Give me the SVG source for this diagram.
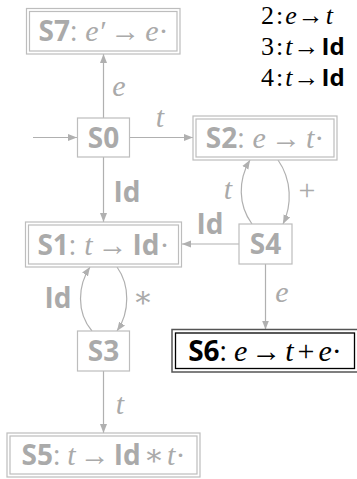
<svg xmlns="http://www.w3.org/2000/svg" width="357" height="479" viewBox="0 0 357 479">
<style>
.box{fill:#fff;stroke:#bdbdbd;stroke-width:1.2}
.box6o{fill:#fff;stroke:#555;stroke-width:1.5}
.box6i{fill:none;stroke:#000;stroke-width:1.3}
.g{fill:#aaa}
.k{fill:#000}
.sb{font-family:"Open Sans","Liberation Sans",sans-serif;font-weight:bold;font-size:28px}
.s{font-family:"Open Sans","Liberation Sans",sans-serif;font-size:28px}
.m{font-family:"Liberation Serif","DejaVu Serif",serif;font-style:italic;font-size:30px}
.r{font-family:"Liberation Serif","DejaVu Serif",serif;font-style:normal;font-size:30px}
.edge{stroke:#b0b0b0;stroke-width:1.2;fill:none;marker-end:url(#ah)}
#rules .sb{font-size:24px}
#rules .m,#rules .r{font-size:26px}
</style>
<defs>
<marker id="ah" markerWidth="10" markerHeight="8" refX="9" refY="4" orient="auto" markerUnits="userSpaceOnUse"><path d="M0,0.5 L9,4 L0,7.5 z" fill="#b0b0b0"/></marker>
</defs>
<g id="rules" class="k">
<text class="r" x="261" y="24">2<tspan dx="2">:</tspan><tspan class="m" dx="2">e</tspan><tspan dx="1">→</tspan><tspan class="m" dx="2">t</tspan></text>
<text class="r" x="261" y="55">3<tspan dx="2">:</tspan><tspan class="m" dx="2">t</tspan><tspan dx="1">→</tspan><tspan class="sb" dx="2">Id</tspan></text>
<text class="r" x="261" y="86">4<tspan dx="2">:</tspan><tspan class="m" dx="2">t</tspan><tspan dx="1">→</tspan><tspan class="sb" dx="2">Id</tspan></text>
</g>
<g id="edges">
<path class="edge" d="M33,137.5 H77"/>
<path class="edge" d="M103.5,118 V54"/>
<path class="edge" d="M129.5,137.5 H193"/>
<path class="edge" d="M103.5,157 V222"/>
<path class="edge" d="M252,224 C238,205 238,180 250,160"/>
<path class="edge" d="M278,160 C292,180 292,205 283,224"/>
<path class="edge" d="M239,244 H182"/>
<path class="edge" d="M265.5,264 V329.5"/>
<path class="edge" d="M92,331 C76,312 78,285 90,267"/>
<path class="edge" d="M117,267 C130,285 130,312 117,331"/>
<path class="edge" d="M103.5,371 V433"/>
<g class="g">
<text class="m" x="119" y="96" text-anchor="middle">e</text>
<text class="m" x="160" y="127" text-anchor="middle">t</text>
<text class="sb" x="127" y="202" text-anchor="middle">Id</text>
<text class="m" x="228" y="199" text-anchor="middle">t</text>
<text class="r" x="307" y="200" text-anchor="middle">+</text>
<text class="sb" x="210" y="234" text-anchor="middle">Id</text>
<text class="m" x="282" y="302" text-anchor="middle">e</text>
<text class="sb" x="58" y="308" text-anchor="middle">Id</text>
<text class="r" x="143" y="307" text-anchor="middle">∗</text>
<text class="m" x="120" y="414" text-anchor="middle">t</text>
</g>
</g>
<g id="S7">
<rect class="box" x="26.5" y="8.5" width="153.5" height="45.5"/>
<rect class="box" x="29.5" y="11.5" width="147.5" height="39.5"/>
<text class="g" x="103.5" y="41" text-anchor="middle"><tspan class="sb">S7</tspan><tspan class="s">:</tspan><tspan class="m" dx="8">e′</tspan><tspan class="r" dx="5">→</tspan><tspan class="m" dx="5">e</tspan><tspan class="r">·</tspan></text>
</g>
<g id="S0">
<rect class="box" x="77.5" y="118" width="52" height="39"/>
<text class="g sb" x="103.5" y="147.5" text-anchor="middle">S0</text>
</g>
<g id="S2">
<rect class="box" x="193" y="116" width="144" height="44"/>
<rect class="box" x="196" y="119" width="138" height="38"/>
<text class="g" x="265" y="148" text-anchor="middle"><tspan class="sb">S2</tspan><tspan class="s">:</tspan><tspan class="m" dx="8">e</tspan><tspan class="r" dx="5">→</tspan><tspan class="m" dx="5">t</tspan><tspan class="r">·</tspan></text>
</g>
<g id="S1">
<rect class="box" x="25.5" y="222" width="156" height="45"/>
<rect class="box" x="28.5" y="225" width="150" height="39"/>
<text class="g" x="103.5" y="254.5" text-anchor="middle"><tspan class="sb">S1</tspan><tspan class="s">:</tspan><tspan class="m" dx="8">t</tspan><tspan class="r" dx="5">→</tspan><tspan class="sb" dx="5">Id</tspan><tspan class="r">·</tspan></text>
</g>
<g id="S4">
<rect class="box" x="239" y="224" width="53" height="40"/>
<text class="g sb" x="265.5" y="254" text-anchor="middle">S4</text>
</g>
<g id="S3">
<rect class="box" x="77.5" y="331" width="52" height="40"/>
<text class="g sb" x="103.5" y="361" text-anchor="middle">S3</text>
</g>
<g id="S6">
<rect class="box6o" x="172" y="329.5" width="186" height="42.5"/>
<rect class="box6i" x="175.5" y="333" width="179" height="35.5"/>
<text class="k" x="265" y="361" text-anchor="middle"><tspan class="sb">S6</tspan><tspan class="s">:</tspan><tspan class="m" dx="7">e</tspan><tspan class="r" dx="4">→</tspan><tspan class="m" dx="4">t</tspan><tspan class="r" dx="4">+</tspan><tspan class="m" dx="4">e</tspan><tspan class="r">·</tspan></text>
</g>
<g id="S5">
<rect class="box" x="7" y="433" width="193" height="44"/>
<rect class="box" x="10" y="436" width="187" height="38"/>
<text class="g" x="103.5" y="465" text-anchor="middle"><tspan class="sb">S5</tspan><tspan class="s">:</tspan><tspan class="m" dx="7">t</tspan><tspan class="r" dx="4">→</tspan><tspan class="sb" dx="4">Id</tspan><tspan class="r" dx="3">∗</tspan><tspan class="m" dx="3">t</tspan><tspan class="r">·</tspan></text>
</g>
</svg>
